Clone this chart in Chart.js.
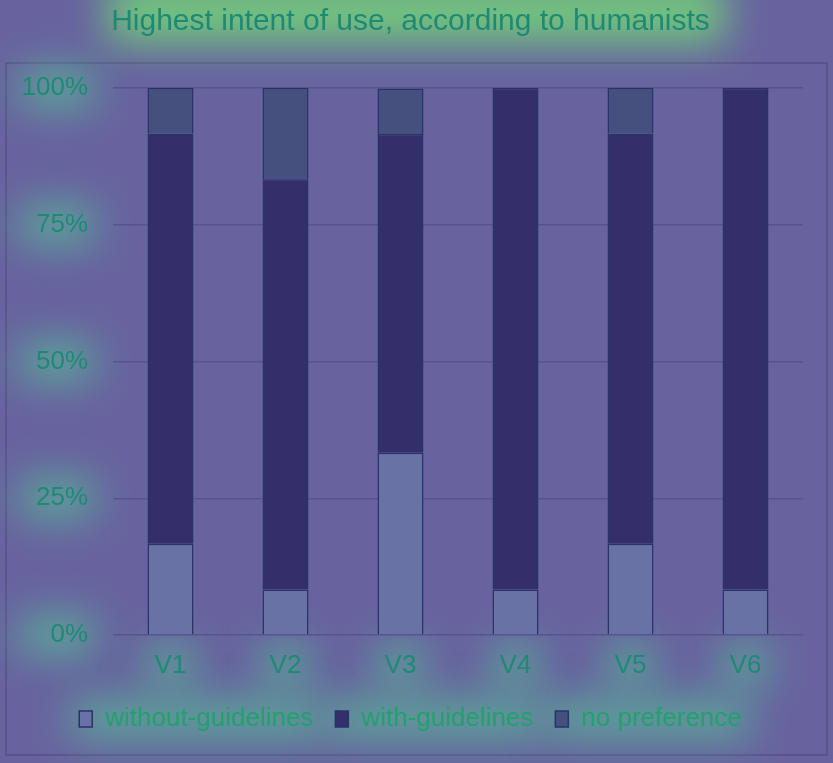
<!DOCTYPE html>
<html>
<head>
<meta charset="utf-8">
<script src="https://cdn.jsdelivr.net/npm/chart.js@4"></script>
<style>
  html, body { margin: 0; padding: 0; background: #68639f; }
  #wrap { width: 833px; height: 763px; position: relative; }
</style>
</head>
<body>
<div id="wrap"><canvas id="intentChart"></canvas></div>
<script>
// ===== Highest intent of use (humanists), stacked 100% bars =====
const categories = ["V1", "V2", "V3", "V4", "V5", "V6"];
const withoutGuidelines = [16.7, 8.3, 33.3, 8.3, 16.7, 8.3];
const withGuidelines = [75.0, 75.0, 58.3, 91.7, 75.0, 91.7];
const noPreference = [8.3, 16.7, 8.3, 0, 8.3, 0];
const yTicks = [0, 25, 50, 75, 100];

const textColor = "#1f8a74";
const fontFamily = "'Liberation Sans', Arial, sans-serif";

// soft green halo behind the texts, like the reference overlay
const glowPlugin = {
  id: "glow",
  beforeDraw(chart) {
    const c = chart.ctx;
    const { width, height } = chart;
    c.save();
    // outer frame
    c.strokeStyle = "#5a548c";
    c.lineWidth = 2;
    c.strokeRect(6, chart.chartArea.top - 25, width - 12, height - chart.chartArea.top + 17);

    c.filter = "blur(20px)";
    // title
    const t = chart.titleBlock;
    c.font = "30px " + fontFamily;
    const tw = c.measureText(t.options.text).width;
    c.fillStyle = "rgba(115, 215, 120, 0.85)";
    c.fillRect((width - tw) / 2 - 10, -20, tw + 20, 64);
    c.fillStyle = "rgba(85, 200, 150, 0.7)";
    // y ticks
    const y = chart.scales.y;
    yTicks.forEach(v => {
      const py = y.getPixelForValue(v);
      c.fillRect(20, py - 20, 74, 40);
    });
    // x labels
    const x = chart.scales.x;
    categories.forEach((k, i) => {
      const px = x.getPixelForValue(i);
      c.fillRect(px - 24, x.top + 10, 48, 38);
    });
    // legend
    chart.legend.legendHitBoxes.forEach(b => {
      c.fillRect(b.left - 8, b.top - 6, b.width + 16, b.height + 12);
    });
    c.restore();
  }
};

const ctx = document.getElementById("intentChart").getContext("2d");

new Chart(ctx, {
  type: "bar",
  data: {
    labels: categories,
    datasets: [
      {
        label: "without-guidelines",
        data: withoutGuidelines,
        backgroundColor: "#6872a4",
        borderColor: "#28336a",
        borderWidth: 1.5,
      },
      {
        label: "with-guidelines",
        data: withGuidelines,
        backgroundColor: "#342f6b",
        borderColor: "#28336a",
        borderWidth: 1.5,
      },
      {
        label: "no preference",
        data: noPreference,
        backgroundColor: "#45507f",
        borderColor: "#28336a",
        borderWidth: 1.5,
      },
    ],
  },
  options: {
    responsive: true,
    maintainAspectRatio: false,
    animation: false,
    datasets: { bar: { categoryPercentage: 1, barPercentage: 0.4 } },
    layout: { padding: { left: 18, right: 30, top: 0, bottom: 21 } },
    plugins: {
      title: {
        display: true,
        text: "Highest intent of use, according to humanists",
        color: textColor,
        font: { family: fontFamily, size: 30, weight: "normal" },
        padding: { top: 4, bottom: 48 },
      },
      legend: {
        display: true,
        position: "bottom",
        labels: {
          color: "#22a06e",
          font: { family: fontFamily, size: 26 },
          boxWidth: 13,
          boxHeight: 16,
          padding: 22,
        },
      },
      tooltip: { enabled: false },
    },
    scales: {
      x: {
        stacked: true,
        afterFit(scale) { scale.height = 49; },
        grid: { display: false },
        border: { display: false },
        ticks: {
          color: textColor,
          font: { family: fontFamily, size: 26 },
          padding: 7,
        },
      },
      y: {
        stacked: true,
        min: 0,
        max: 100,
        afterFit(scale) { scale.width = 95; },
        afterBuildTicks(scale) { scale.ticks = yTicks.map(v => ({ value: v })); },
        grid: { color: "#58538e", lineWidth: 1.5, drawTicks: false },
        border: { display: false },
        ticks: {
          color: textColor,
          font: { family: fontFamily, size: 26 },
          padding: 25,
          callback: v => v + "%",
        },
      },
    },
  },
  plugins: [glowPlugin],
});
</script>
</body>
</html>
